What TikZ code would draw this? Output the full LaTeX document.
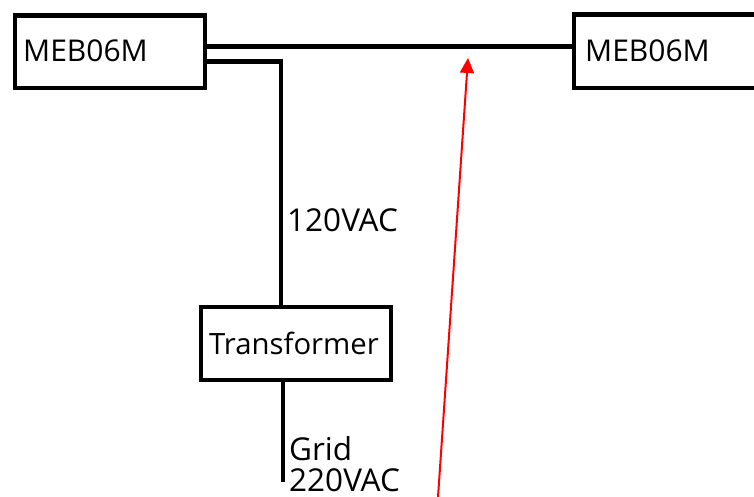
\documentclass[tikz,border=0pt]{standalone}
\usepackage{fontspec}
\setmainfont{Open Sans}
\usetikzlibrary{arrows.meta}
\begin{document}
\begin{tikzpicture}[x=1pt,y=-1pt,
  box/.style={draw=black,line width=4.5pt,fill=white,inner sep=0pt},
  wire/.style={draw=black,line width=4.5pt},
  lbl/.style={inner sep=0pt,font=\fontsize{31.5}{37}\selectfont,text=black},
  boxlbl/.style={inner sep=0pt,font=\fontsize{30}{36}\selectfont,text=black},
  redarrow/.style={draw=red,line width=2pt,-{Triangle[length=15pt,width=14pt]}}]
\useasboundingbox (0,0) rectangle (754,497);
% boxes
\node[box,minimum width=190pt,minimum height=72.5pt,anchor=north west] (m1) at (12.5,13.5) {};
\node[boxlbl,anchor=base west] (m1t) at (23,62) {MEB06M};
\node[box,minimum width=190pt,minimum height=73.5pt,anchor=north west] (m2) at (571.5,12.5) {};
\node[boxlbl,anchor=base west] (m2t) at (585,62) {MEB06M};
\node[box,minimum width=190pt,minimum height=73pt,anchor=north west] (tr) at (198.5,304.5) {};
\node[boxlbl,font=\fontsize{29.3}{35}\selectfont,anchor=base] (trt) at (294,354) {Transformer};
% wires
\coordinate (vup) at (281,0);
\coordinate (gridend) at (283,482);
\draw[wire] ([yshift=5.25pt]m1.east) -- ([yshift=4.75pt]m2.west);
\draw[wire] ([yshift=-9.75pt]m1.east) -| (vup |- tr.north);
\draw[wire] (gridend |- tr.south) -- (gridend);
% labels
\node[lbl,anchor=base west] (v120) at (287,231) {120VAC};
\node[lbl,anchor=base west] (grid) at (289,460) {Grid};
\node[lbl,anchor=base west] (v220) at (289,491.5) {220VAC};
% red arrow
\coordinate (rstart) at (438,497);
\coordinate (rend) at (468,58);
\draw[redarrow] (rstart) -- (rend);
\end{tikzpicture}
\end{document}
